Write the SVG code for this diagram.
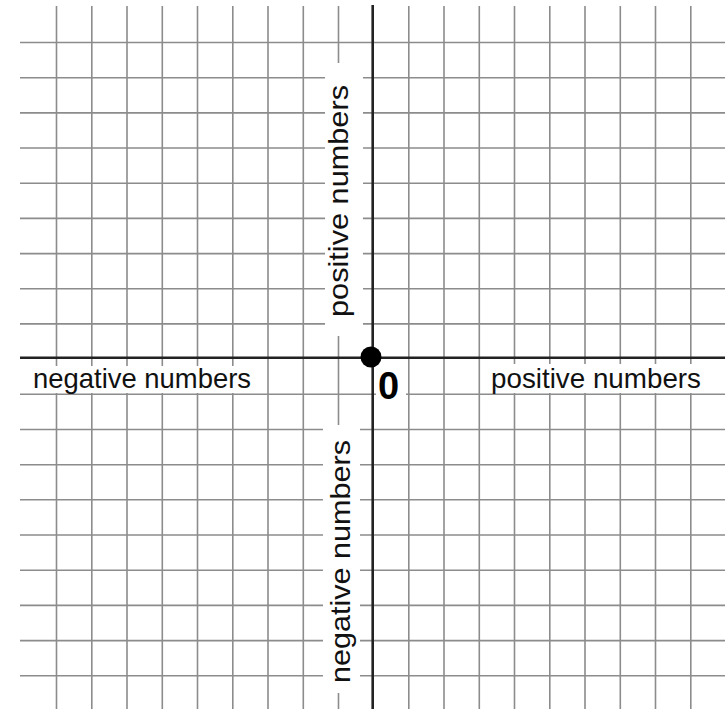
<svg xmlns="http://www.w3.org/2000/svg" width="725" height="709" viewBox="0 0 725 709">
<style>
.grid{stroke:#8c8c8c;stroke-width:1.6;fill:none}
.axis{stroke:#222;stroke-width:2.6;fill:none}
.bg{fill:#fff}
.lbl{font-family:"Liberation Sans",Arial,sans-serif;font-size:28px;fill:#111}
.zero{font-family:"Liberation Sans",Arial,sans-serif;font-size:38px;font-weight:bold;fill:#000}
</style>
<rect width="725" height="709" fill="#fff"/>
<g id="grid" class="grid">
<path d="M56.5 6V709M91.8 6V709M127 6V709M162.3 6V709M197.5 6V709M232.8 6V709M268 6V709M303.3 6V709M338.5 6V709M408.8 6V709M444 6V709M479.3 6V709M514.5 6V709M549.8 6V709M585 6V709M620.3 6V709M655.5 6V709M690.8 6V709"/>
<path d="M20 42.5H725M20 77.7H725M20 112.9H725M20 148H725M20 183.2H725M20 218.4H725M20 253.6H725M20 288.8H725M20 323.9H725M20 394.3H725M20 429.5H725M20 464.7H725M20 499.8H725M20 535H725M20 570.2H725M20 605.4H725M20 640.6H725M20 675.7H725"/>
</g>
<g id="axes">
<path class="axis" d="M20 357.7H725"/>
<path class="axis" d="M372.7 5V709"/>
</g>
<g id="label-left">
<rect class="bg" x="28" y="366" width="228" height="27"/>
<text class="lbl" x="33" y="387.5" textLength="218" lengthAdjust="spacingAndGlyphs">negative numbers</text>
</g>
<g id="label-right">
<rect class="bg" x="486" y="364" width="222" height="29"/>
<text class="lbl" x="491" y="387.5" textLength="210" lengthAdjust="spacingAndGlyphs">positive numbers</text>
</g>
<g id="label-up">
<rect class="bg" x="325" y="63" width="38" height="273"/>
<text class="lbl" transform="translate(348 317) rotate(-90)" textLength="232" lengthAdjust="spacingAndGlyphs">positive numbers</text>
</g>
<g id="label-down">
<rect class="bg" x="323" y="425" width="37" height="268"/>
<text class="lbl" transform="translate(350 683) rotate(-90)" textLength="243" lengthAdjust="spacingAndGlyphs">negative numbers</text>
</g>
<g id="origin">
<rect class="bg" x="376" y="368" width="30" height="33"/>
<circle cx="371" cy="357" r="10.5" fill="#000"/>
<text class="zero" x="378" y="399">0</text>
</g>
</svg>
